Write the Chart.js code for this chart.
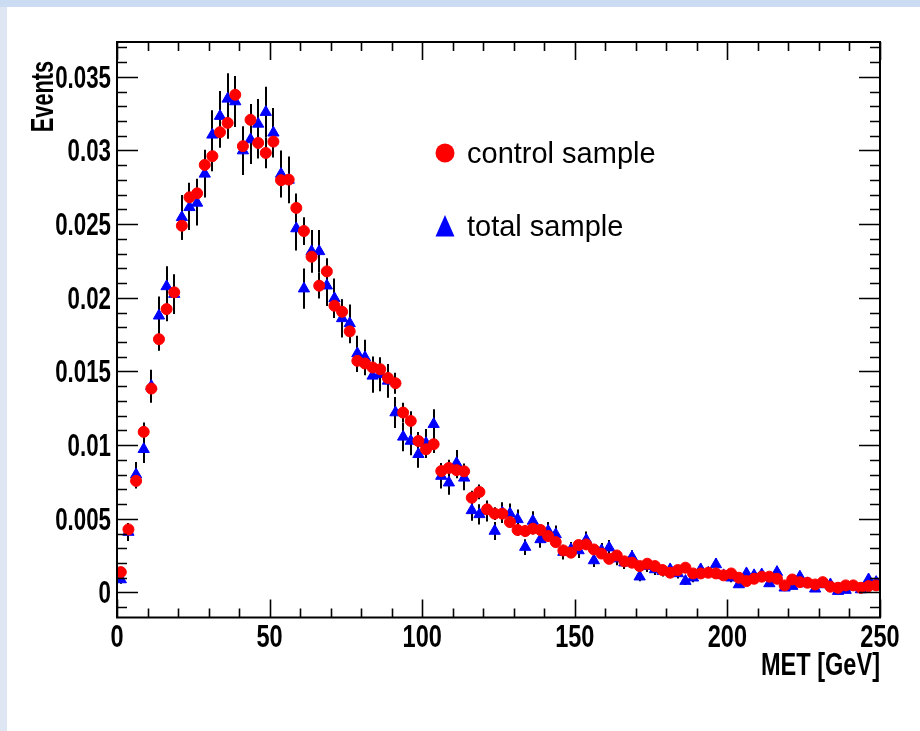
<!DOCTYPE html>
<html>
<head>
<meta charset="utf-8">
<script src="https://cdn.jsdelivr.net/npm/chart.js@4.4.1/dist/chart.umd.min.js"></script>
<style>
html,body{margin:0;padding:0;background:#ffffff;}
#c{display:block;}
</style>
</head>
<body>
<canvas id="c" width="920" height="731"></canvas>
<script>
// ---- data ----
const binCenters = [1.25,3.75,6.25,8.75,11.25,13.75,16.25,18.75,21.25,23.75,26.25,28.75,31.25,33.75,36.25,38.75,41.25,43.75,46.25,48.75,51.25,53.75,56.25,58.75,61.25,63.75,66.25,68.75,71.25,73.75,76.25,78.75,81.25,83.75,86.25,88.75,91.25,93.75,96.25,98.75,101.25,103.75,106.25,108.75,111.25,113.75,116.25,118.75,121.25,123.75,126.25,128.75,131.25,133.75,136.25,138.75,141.25,143.75,146.25,148.75,151.25,153.75,156.25,158.75,161.25,163.75,166.25,168.75,171.25,173.75,176.25,178.75,181.25,183.75,186.25,188.75,191.25,193.75,196.25,198.75,201.25,203.75,206.25,208.75,211.25,213.75,216.25,218.75,221.25,223.75,226.25,228.75,231.25,233.75,236.25,238.75,241.25,243.75,246.25,248.75];

const controlSample = [0.00138,0.00428,0.00757,0.01090,0.01384,0.01719,0.01923,0.02037,0.02489,0.02682,
0.02709,0.02902,0.02961,0.03124,0.03187,0.03378,0.03029,0.03208,0.03051,0.02983,
0.03060,0.02798,0.02802,0.02610,0.02453,0.02279,0.02082,0.02179,0.01946,0.01905,
0.01772,0.01572,0.01554,0.01527,0.01515,0.01456,0.01420,0.01221,0.01164,0.01028,
0.00972,0.01006,0.00824,0.00845,0.00830,0.00822,0.00643,0.00682,0.00564,0.00535,
0.00535,0.00478,0.00424,0.00417,0.00433,0.00424,0.00383,0.00342,0.00285,0.00270,
0.00322,0.00326,0.00292,0.00264,0.00228,0.00251,0.00211,0.00202,0.00179,0.00195,
0.00179,0.00152,0.00134,0.00152,0.00168,0.00129,0.00129,0.00134,0.00129,0.00116,
0.00129,0.00100,0.00077,0.00093,0.00107,0.00107,0.00093,0.00048,0.00088,0.00070,
0.00066,0.00054,0.00070,0.00039,0.00032,0.00048,0.00048,0.00032,0.00043,0.00048];

const totalSample = [0.00088,0.00410,0.00800,0.00972,0.01400,0.01878,0.02077,0.02025,0.02546,0.02614,
0.02644,0.02841,0.03106,0.03233,0.03350,0.03332,0.02999,0.03074,0.03180,0.03260,
0.03120,0.02840,0.02800,0.02470,0.02062,0.02315,0.02315,0.02082,0.01996,0.01860,
0.01826,0.01622,0.01595,0.01470,0.01481,0.01436,0.01221,0.01056,0.01028,0.00938,
0.01013,0.01142,0.00790,0.00745,0.00877,0.00778,0.00557,0.00530,0.00553,0.00417,
0.00542,0.00535,0.00496,0.00308,0.00485,0.00360,0.00417,0.00394,0.00274,0.00292,
0.00285,0.00356,0.00217,0.00285,0.00304,0.00230,0.00202,0.00240,0.00107,0.00179,
0.00156,0.00145,0.00156,0.00129,0.00077,0.00100,0.00156,0.00134,0.00190,0.00116,
0.00100,0.00054,0.00129,0.00116,0.00122,0.00061,0.00138,0.00032,0.00043,0.00107,
0.00061,0.00025,0.00054,0.00054,0.00009,0.00016,0.00039,0.00020,0.00088,0.00070];

// statistical errors, in units of 1e-4
const controlErr = [2.2,3.9,5.2,6.3,7.1,7.9,8.3,8.6,9.5,9.8,
9.9,10.2,10.3,10.6,10.7,11.0,10.4,10.7,10.5,10.4,
10.5,10.0,10.0,9.7,9.4,9.1,8.7,8.9,8.4,8.3,
8.0,7.5,7.5,7.4,7.4,7.2,7.1,6.6,6.5,6.1,
5.9,6.0,5.4,5.5,5.5,5.4,4.8,5.0,4.5,4.4,
4.4,4.1,3.9,3.9,3.9,3.9,3.7,3.5,3.2,3.1,
3.4,3.4,3.2,3.1,2.9,3.0,2.8,2.7,2.5,2.6,
2.5,2.3,2.2,2.3,2.5,2.2,2.2,2.2,2.2,2.0,
2.2,1.9,1.7,1.8,2.0,2.0,1.8,1.3,1.8,1.6,
1.5,1.4,1.6,1.2,1.1,1.3,1.3,1.1,1.2,1.3];

const totalErr = [2.9,6.1,8.5,9.4,11.2,13.0,13.7,13.5,15.2,15.4,
15.4,16.0,16.7,17.1,17.4,17.3,16.5,16.6,16.9,17.2,
16.8,16.0,15.9,14.9,13.6,14.5,14.5,13.7,13.4,13.0,
12.8,12.1,12.0,11.5,11.6,11.4,10.5,9.8,9.6,9.2,
9.6,10.1,8.4,8.2,8.9,8.4,7.1,6.9,7.1,6.1,
7.0,6.9,6.7,5.3,6.6,5.7,6.1,6.0,5.0,5.1,
5.1,5.7,4.4,5.1,5.2,4.6,4.3,4.7,3.1,4.0,
3.8,3.6,3.8,3.4,2.6,3.0,3.8,3.5,4.1,3.2,
3.0,2.2,3.4,3.2,3.3,2.3,3.5,1.7,2.0,3.1,
2.3,1.5,2.2,2.2,0.9,1.2,1.9,1.3,2.8,2.5];

const xTickValues = [0,50,100,150,200,250];
const xTickLabels = ["0","50","100","150","200","250"];
const yTickValues = [0,0.005,0.01,0.015,0.02,0.025,0.03,0.035];
const yTickLabels = ["0","0.005","0.01","0.015","0.02","0.025","0.03","0.035"];
const xMinorStep = 10;
const yMinorStep = 0.001;

const seriesNames = ["control sample","total sample"];
const xTitle = "MET [GeV]";
const yTitle = "Events";

// ---- drawing ----
const LABEL_FONT = 'bold 31px "Liberation Sans", Arial, Helvetica, sans-serif';

function sqText(ctx, text, x, y, align, sq) {
  ctx.save();
  ctx.translate(x, y);
  ctx.scale(sq, 1);
  ctx.textAlign = align;
  ctx.textBaseline = 'alphabetic';
  ctx.fillText(text, 0, 0);
  ctx.restore();
}

const rootStyle = {
  id: 'rootStyle',
  beforeDraw(chart) {
    const ctx = chart.ctx;
    ctx.save();
    ctx.fillStyle = '#ffffff';
    ctx.fillRect(0, 0, chart.width, chart.height);
    ctx.fillStyle = '#dfe6f3';
    ctx.fillRect(0, 0, 7, chart.height);
    ctx.fillStyle = '#cbdbf1';
    ctx.fillRect(0, 0, chart.width, 7);
    ctx.restore();
  },
  beforeDatasetsDraw(chart) {
    const ctx = chart.ctx;
    const xs = chart.scales.x, ys = chart.scales.y;
    const a = chart.chartArea;
    ctx.save();
    ctx.beginPath();
    ctx.rect(a.left, a.top, a.right - a.left, a.bottom - a.top);
    ctx.clip();
    ctx.strokeStyle = '#000000';
    ctx.lineWidth = 2;
    const sets = [[totalSample, totalErr], [controlSample, controlErr]];
    sets.forEach(([vals, errs]) => {
      vals.forEach((v, i) => {
        const px = Math.round(xs.getPixelForValue(binCenters[i]));
        const e = errs[i] * 1e-4;
        const y1 = ys.getPixelForValue(v - e);
        const y2 = ys.getPixelForValue(v + e);
        ctx.beginPath();
        ctx.moveTo(px, y1);
        ctx.lineTo(px, y2);
        ctx.stroke();
      });
    });
    ctx.restore();
  },
  afterDraw(chart) {
    const ctx = chart.ctx;
    const xs = chart.scales.x, ys = chart.scales.y;
    const a = chart.chartArea;
    const L = a.left, R = a.right, T = a.top, B = a.bottom;
    ctx.save();
    ctx.strokeStyle = '#000000';
    ctx.lineWidth = 2;
    ctx.strokeRect(L, T, R - L, B - T);
    ctx.lineWidth = 1.6;
    ctx.beginPath();
    for (let v = xs.min; v <= xs.max + 1e-9; v += xMinorStep) {
      const px = Math.round(xs.getPixelForValue(v)) + 0.5;
      const major = xTickValues.some(t => Math.abs(t - v) < 1e-6);
      const len = major ? 18 : 9;
      ctx.moveTo(px, B); ctx.lineTo(px, B - len);
      ctx.moveTo(px, T); ctx.lineTo(px, T + len);
    }
    const yStart = Math.ceil(ys.min / yMinorStep - 1e-6) * yMinorStep;
    for (let k = 0; ; k++) {
      const v = yStart + k * yMinorStep;
      if (v > ys.max + 1e-12) break;
      const py = Math.round(ys.getPixelForValue(v)) + 0.5;
      const major = yTickValues.some(t => Math.abs(t - v) < 1e-9);
      const len = major ? 21 : 10;
      ctx.moveTo(L, py); ctx.lineTo(L + len, py);
      ctx.moveTo(R, py); ctx.lineTo(R - len, py);
    }
    ctx.stroke();

    ctx.fillStyle = '#000000';
    ctx.font = LABEL_FONT;
    xTickValues.forEach((v, i) => {
      sqText(ctx, xTickLabels[i], xs.getPixelForValue(v), 647, 'center', 0.76);
    });
    yTickValues.forEach((v, i) => {
      sqText(ctx, yTickLabels[i], 111, ys.getPixelForValue(v) + 11, 'right', 0.72);
    });
    sqText(ctx, xTitle, R, 675, 'right', 0.76);
    ctx.save();
    ctx.translate(53, 61);
    ctx.rotate(-Math.PI / 2);
    sqText(ctx, yTitle, 0, 0, 'right', 0.70);
    ctx.restore();

    // legend
    ctx.fillStyle = '#ff0000';
    ctx.beginPath();
    ctx.arc(445, 153, 9.5, 0, Math.PI * 2);
    ctx.fill();
    ctx.fillStyle = '#0000ff';
    ctx.beginPath();
    ctx.moveTo(445, 215);
    ctx.lineTo(454.5, 236.5);
    ctx.lineTo(435.5, 236.5);
    ctx.closePath();
    ctx.fill();
    ctx.fillStyle = '#000000';
    ctx.font = '29px "Liberation Sans", Arial, Helvetica, sans-serif';
    ctx.textAlign = 'left';
    ctx.textBaseline = 'alphabetic';
    ctx.fillText(seriesNames[0], 467, 163);
    ctx.fillText(seriesNames[1], 467, 236);
    ctx.restore();
  }
};

const toPoints = vals => vals.map((v, i) => ({ x: binCenters[i], y: v }));

new Chart(document.getElementById('c'), {
  type: 'scatter',
  data: {
    datasets: [
      {
        label: seriesNames[0],
        data: toPoints(controlSample),
        pointStyle: 'circle',
        pointRadius: 5.5,
        pointBorderWidth: 1,
        backgroundColor: '#ff0000',
        borderColor: '#ff0000',
        order: 0
      },
      {
        label: seriesNames[1],
        data: toPoints(totalSample),
        pointStyle: 'triangle',
        pointRadius: 6.5,
        pointBorderWidth: 1,
        backgroundColor: '#0000ff',
        borderColor: '#0000ff',
        order: 1
      }
    ]
  },
  options: {
    responsive: false,
    animation: false,
    devicePixelRatio: 1,
    layout: { padding: { left: 117, right: 40, top: 42, bottom: 113.5 } },
    plugins: { legend: { display: false }, tooltip: { enabled: false } },
    scales: {
      x: { type: 'linear', min: 0, max: 250, display: false },
      y: { type: 'linear', min: -0.0017, max: 0.03736, display: false }
    }
  },
  plugins: [rootStyle]
});
</script>
</body>
</html>
